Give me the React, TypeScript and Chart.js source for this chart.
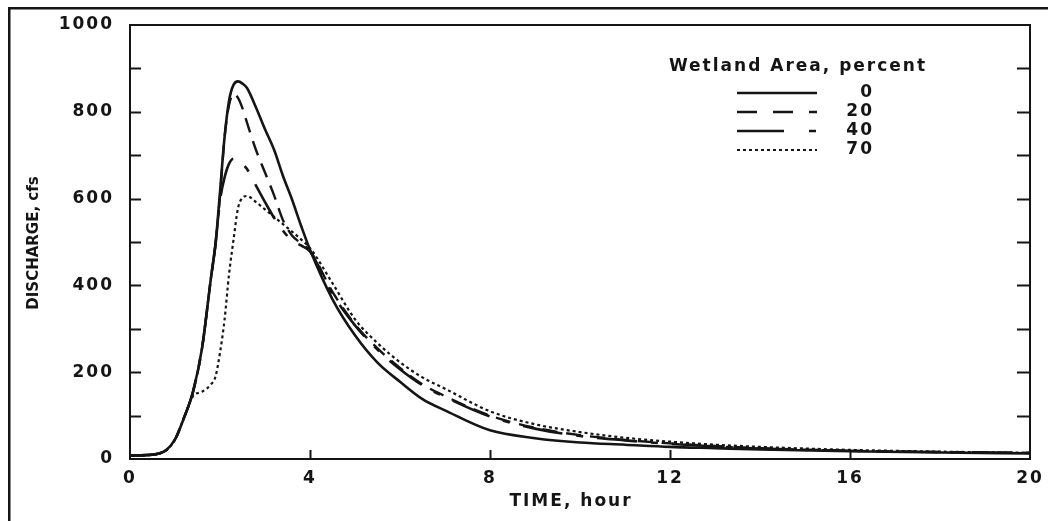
import React, { useEffect, useRef } from 'react';
import { Chart, registerables } from 'chart.js';

Chart.register(...registerables);

// ---- data ----
const TIME_HOURS = [0, 0.5, 0.8, 1.0, 1.2, 1.4, 1.6, 1.8, 1.9, 2.0, 2.1, 2.2, 2.3, 2.4, 2.5, 2.6, 2.8, 3.0, 3.2, 3.4, 3.6, 3.8, 4.0, 4.5, 5, 5.5, 6, 6.5, 7, 8, 9, 10, 11, 12, 13, 14, 16, 18, 20];

const WETLAND_0 = [8, 10, 20, 45, 95, 155, 255, 418, 495, 615, 740, 825, 862, 870, 865, 855, 810, 760, 713, 652, 598, 538, 482, 368, 285, 222, 178, 138, 112, 66, 48, 38, 33, 28, 25, 22, 18, 15, 13];
const WETLAND_20 = [8, 10, 20, 45, 95, 155, 255, 418, 495, 605, 740, 815, 842, 832, 808, 775, 712, 660, 608, 550, 515, 497, 480, 385, 310, 255, 210, 172, 145, 100, 72, 55, 44, 36, 30, 25, 19, 16, 14];
const WETLAND_40 = [8, 10, 20, 45, 95, 155, 255, 418, 495, 595, 648, 680, 692, 688, 680, 668, 630, 592, 556, 526, 503, 492, 478, 380, 308, 252, 207, 170, 143, 98, 70, 53, 43, 35, 29, 24, 19, 16, 14];
const WETLAND_70 = [8, 10, 20, 45, 95, 145, 155, 172, 190, 245, 320, 425, 505, 578, 602, 606, 592, 575, 558, 541, 524, 506, 486, 405, 322, 267, 223, 188, 162, 110, 80, 62, 49, 40, 33, 28, 21, 17, 14];

const SERIES_LABELS = ['0', '20', '40', '70'];
const SERIES_VALUES = [WETLAND_0, WETLAND_20, WETLAND_40, WETLAND_70];

const X_TICKS = [0, 4, 8, 12, 16, 20];
const Y_TICKS = [0, 200, 400, 600, 800, 1000];
const Y_MINOR_TICKS = [100, 200, 300, 400, 500, 600, 700, 800, 900];

const LEGEND_TITLE = 'Wetland Area, percent';
const X_TITLE = 'TIME, hour';
const Y_TITLE = 'DISCHARGE, cfs';

// ---- styles ----
const INK = '#151515';
const LINE_DASH = [[], [15, 9], [40, 14, 7, 14], [3, 3]];
const LEGEND_DASH = [[], [20, 16], [47, 25, 7, 25], [3, 3]];
const LINE_WIDTH = [2.6, 2.4, 2.6, 2.2];
const FONT = '"DejaVu Sans", Verdana, sans-serif';

const decorPlugin = {
  id: 'decor',
  beforeDraw(chart: any) {
    const ctx = chart.ctx;
    ctx.letterSpacing = '2px';
    ctx.save();
    ctx.fillStyle = INK;
    // outer frame (top and left edges visible)
    ctx.fillRect(8, 7, chart.width - 8, 2.5);
    ctx.fillRect(8, 7, 2.5, chart.height - 7);
    ctx.restore();
  },
  afterDraw(chart: any) {
    const { ctx, chartArea: a, scales } = chart;
    const x = scales.x;
    const y = scales.y;
    ctx.save();
    ctx.strokeStyle = INK;
    ctx.lineWidth = 2;
    ctx.setLineDash([]);
    ctx.strokeRect(a.left, a.top, a.right - a.left, a.bottom - a.top);
    ctx.beginPath();
    for (const v of Y_MINOR_TICKS) {
      const py = Math.round(y.getPixelForValue(v)) + 0.5;
      ctx.moveTo(a.left, py);
      ctx.lineTo(a.left + 11, py);
      ctx.moveTo(a.right - 13, py);
      ctx.lineTo(a.right, py);
    }
    for (const t of X_TICKS) {
      if (t <= x.min || t >= x.max) continue;
      const px = Math.round(x.getPixelForValue(t)) + 0.5;
      ctx.moveTo(px, a.bottom);
      ctx.lineTo(px, a.bottom - 9);
    }
    ctx.stroke();

    ctx.fillStyle = INK;
    ctx.textBaseline = 'middle';
    ctx.font = `bold 17px ${FONT}`;

    // x title
    ctx.letterSpacing = '2px';
    ctx.textAlign = 'center';
    ctx.fillText(X_TITLE, 571, 502);

    // legend
    ctx.fillText(LEGEND_TITLE, 798, 67);
    ctx.textAlign = 'right';
    const rowY = [93, 112, 131, 150];
    chart.data.datasets.forEach((ds: any, i: number) => {
      const ry = rowY[i];
      ctx.save();
      ctx.lineWidth = ds.borderWidth;
      ctx.strokeStyle = ds.borderColor;
      ctx.setLineDash(LEGEND_DASH[i]);
      ctx.beginPath();
      ctx.moveTo(737, ry);
      ctx.lineTo(817, ry);
      ctx.stroke();
      ctx.restore();
      ctx.fillText(ds.label, 874, ry);
    });

    // y title
    ctx.letterSpacing = '0px';
    ctx.translate(34, 243);
    ctx.rotate(-Math.PI / 2);
    ctx.textAlign = 'center';
    ctx.font = `bold 15px ${FONT}`;
    ctx.fillText(Y_TITLE, 0, 0);
    ctx.restore();
  },
};

export default function App() {
  const canvasRef = useRef<HTMLCanvasElement | null>(null);

  useEffect(() => {
    if (!canvasRef.current) return;
    const datasets = SERIES_VALUES.map((vals, i) => ({
      label: SERIES_LABELS[i],
      data: TIME_HOURS.map((t, k) => ({ x: t, y: vals[k] })),
      borderColor: INK,
      borderWidth: LINE_WIDTH[i],
      borderDash: LINE_DASH[i],
      pointRadius: 0,
      fill: false,
      cubicInterpolationMode: 'monotone' as const,
    }));

    const chart = new Chart(canvasRef.current, {
      type: 'line',
      data: { datasets },
      options: {
        animation: false,
        responsive: true,
        maintainAspectRatio: false,
        layout: { padding: { top: 25, right: 18, left: 0, bottom: 0 } },
        plugins: { legend: { display: false }, tooltip: { enabled: false }, title: { display: false } },
        scales: {
          x: {
            type: 'linear',
            min: 0,
            max: 20,
            grid: { display: false, drawTicks: false },
            border: { display: false },
            afterBuildTicks: (scale: any) => {
              scale.ticks = X_TICKS.map((v) => ({ value: v }));
            },
            ticks: {
              color: INK,
              padding: 9,
              maxRotation: 0,
              autoSkip: false,
              callback: (v: any) => String(v),
              font: { family: FONT, size: 17, weight: 'bold' },
            },
            afterFit: (scale: any) => {
              scale.height = 62;
              scale.paddingLeft = 0;
              scale.paddingRight = 0;
            },
          },
          y: {
            type: 'linear',
            min: 0,
            max: 1000,
            grid: { display: false, drawTicks: false },
            border: { display: false },
            afterBuildTicks: (scale: any) => {
              scale.ticks = Y_TICKS.map((v) => ({ value: v }));
            },
            ticks: {
              color: INK,
              padding: 16,
              callback: (v: any) => String(v),
              font: { family: FONT, size: 17, weight: 'bold' },
            },
            afterFit: (scale: any) => {
              scale.width = 130;
              scale.paddingTop = 0;
              scale.paddingBottom = 0;
            },
          },
        },
      },
      plugins: [decorPlugin],
    });
    return () => chart.destroy();
  }, []);

  return (
    <div style={{ position: 'fixed', left: 0, top: 0, width: 1048, height: 521, background: '#fff' }}>
      <canvas ref={canvasRef} />
    </div>
  );
}
